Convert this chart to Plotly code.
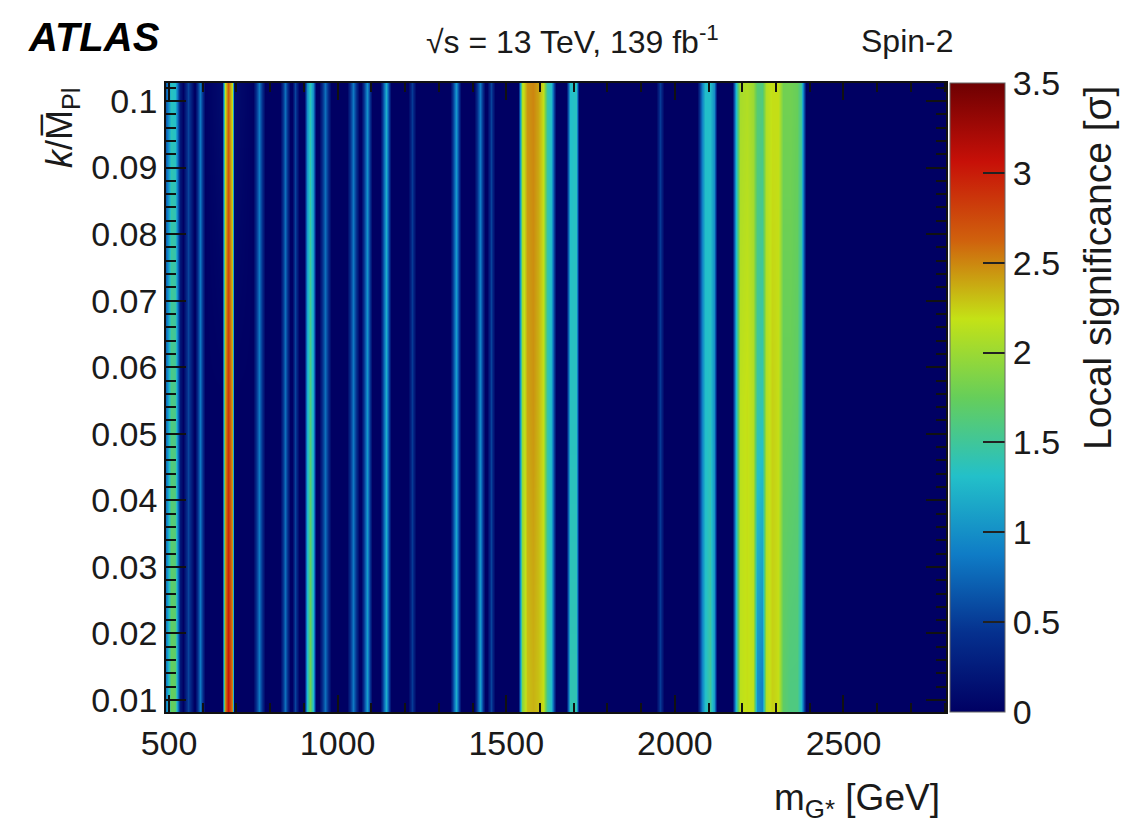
import plotly.graph_objects as go

# ---- data (local significance vs. mass, at three k/M_Pl rows) ----
K_ROWS = [0.012, 0.055, 0.099]

MASS = [491, 505, 518, 532, 541, 557, 573, 576, 592, 608,
        658, 666, 676, 686, 694, 750, 768, 786, 828, 844,
        860, 864, 874, 884, 900, 910, 918, 926, 936, 946,
        963, 980, 1028, 1045, 1062, 1069, 1086, 1103, 1125, 1142,
        1159, 1208, 1220, 1232, 1333, 1350, 1367, 1404, 1421, 1438,
        1444, 1456, 1468, 1536, 1548, 1562, 1580, 1595, 1610, 1622,
        1634, 1648, 1678, 1688, 1706, 1716, 1945, 1957, 1969, 2066,
        2080, 2090, 2105, 2115, 2126, 2170, 2182, 2192, 2215, 2232,
        2244, 2258, 2270, 2289, 2307, 2321, 2342, 2363, 2375, 2388,
        2804]

SIG_LOW_K = [0.9, 1.75, 1.7, 0.2, 0, 0.55, 0, 0, 0.85, 0,
             0, 2.5, 3.05, 2.5, 0, 0, 0.85, 0, 0, 0.8,
             0, 0, 0.55, 0, 0, 1.3, 1.8, 1.3, 0, 0,
             0.8, 0, 0, 0.85, 0, 0, 1.1, 0, 0, 1.2,
             0, 0, 0.5, 0, 0, 1.2, 0, 0, 1.1, 0,
             0, 0.55, 0, 0, 1.9, 2.3, 2.35, 2.3, 2.2, 1.5,
             1.3, 0, 0, 1.4, 1.4, 0, 0, 0.5, 0, 0,
             0.9, 1.3, 1.5, 1.1, 0, 0, 1.3, 2.15, 2.2, 2.15,
             1.0, 0.9, 2.1, 2.25, 2.2, 1.7, 1.6, 1.6, 1.3, 0,
             0]

SIG_MID_K = [0.8, 1.6, 1.55, 0.2, 0, 0.55, 0, 0, 0.85, 0,
             0, 2.4, 2.85, 2.4, 0, 0, 0.85, 0, 0, 0.8,
             0, 0, 0.55, 0, 0, 1.2, 1.6, 1.2, 0, 0,
             0.8, 0, 0, 0.85, 0, 0, 1.05, 0, 0, 1.2,
             0, 0, 0.5, 0, 0, 1.1, 0, 0, 0.95, 0,
             0, 0.55, 0, 0, 2.0, 2.4, 2.45, 2.35, 2.2, 1.45,
             1.25, 0, 0, 1.35, 1.35, 0, 0, 0.5, 0, 0,
             0.9, 1.3, 1.35, 1.0, 0, 0, 1.3, 2.15, 2.2, 2.1,
             1.45, 1.4, 2.1, 2.25, 2.2, 1.75, 1.75, 1.7, 1.4, 0,
             0]

SIG_HIGH_K = [0.7, 1.35, 1.3, 0.2, 0, 0.55, 0, 0, 0.85, 0,
              0.1, 2.2, 2.65, 2.2, 0.1, 0, 0.85, 0, 0, 0.8,
              0, 0, 0.55, 0, 0, 1.0, 1.4, 1.0, 0, 0,
              0.8, 0, 0, 0.85, 0, 0, 1.0, 0, 0, 1.2,
              0, 0, 0.5, 0, 0, 1.05, 0, 0, 0.85, 0,
              0, 0.55, 0, 0, 2.1, 2.45, 2.5, 2.4, 2.2, 1.45,
              1.3, 0, 0, 1.3, 1.35, 0, 0, 0.5, 0, 0,
              0.9, 1.3, 1.3, 1.0, 0, 0, 1.3, 2.05, 2.1, 2.0,
              1.65, 1.6, 2.1, 2.2, 2.2, 1.8, 1.8, 1.75, 1.5, 0,
              0]

X_TICKS = [500, 1000, 1500, 2000, 2500]
Y_TICKS = [0.01, 0.02, 0.03, 0.04, 0.05, 0.06, 0.07, 0.08, 0.09, 0.1]
Y_TICK_LABELS = ["0.01", "0.02", "0.03", "0.04", "0.05", "0.06", "0.07", "0.08", "0.09", "0.1"]
Z_TICKS = [0, 0.5, 1, 1.5, 2, 2.5, 3, 3.5]

# ROOT kRainBow palette
RAINBOW = [
    [0.000, "rgb(0,0,99)"],
    [0.125, "rgb(5,48,142)"],
    [0.250, "rgb(15,124,198)"],
    [0.375, "rgb(35,192,201)"],
    [0.500, "rgb(102,206,90)"],
    [0.625, "rgb(196,226,22)"],
    [0.750, "rgb(208,97,13)"],
    [0.875, "rgb(199,16,8)"],
    [1.000, "rgb(110,0,2)"],
]

FONT = "Liberation Sans"
TXT = "#1a1a1a"

fig = go.Figure()
fig.add_trace(go.Heatmap(
    x=MASS, y=K_ROWS, z=[SIG_LOW_K, SIG_MID_K, SIG_HIGH_K],
    zmin=0, zmax=3.5, zsmooth="best", colorscale=RAINBOW,
    colorbar=dict(
        x=1.005, xanchor="left", xpad=0, y=0.5, yanchor="middle", ypad=0,
        len=1, lenmode="fraction", thickness=55, thicknessmode="pixels",
        outlinewidth=1, outlinecolor="#666",
        tickmode="array", tickvals=Z_TICKS, ticktext=[str(v) for v in Z_TICKS],
        ticks="inside", ticklen=22, tickwidth=1.5, tickcolor="#222",
        tickfont=dict(family=FONT, size=34, color=TXT),
    ),
    showscale=True,
))

fig.update_layout(
    width=1140, height=826,
    margin=dict(l=166, r=194, t=83, b=114),
    paper_bgcolor="white", plot_bgcolor="rgb(0,0,99)",
    font=dict(family=FONT, size=34, color=TXT),
    showlegend=False,
)

fig.update_xaxes(
    range=[491, 2804], tickmode="array", tickvals=X_TICKS,
    ticks="inside", ticklen=17, tickwidth=1.5, tickcolor="#111",
    minor=dict(dtick=100, tick0=500, ticks="inside", ticklen=9, tickwidth=1.5, tickcolor="#111"),
    showline=True, linecolor="#111", linewidth=1.5, mirror="ticks",
    showgrid=False, zeroline=False,
    tickfont=dict(family=FONT, size=34, color=TXT),
)
fig.update_yaxes(
    range=[0.0082, 0.1027], tickmode="array", tickvals=Y_TICKS, ticktext=Y_TICK_LABELS,
    ticks="inside", ticklen=20, tickwidth=1.5, tickcolor="#111",
    minor=dict(dtick=0.002, tick0=0.01, ticks="inside", ticklen=10, tickwidth=1.5, tickcolor="#111"),
    showline=True, linecolor="#111", linewidth=1.5, mirror="ticks",
    showgrid=False, zeroline=False,
    tickfont=dict(family=FONT, size=34, color=TXT),
)

def px_x(px):
    return (px - 166) / 780.0

def px_y(py):
    return (712 - py) / 629.0

ann = [
    dict(text="<b><i>ATLAS</i></b>", x=px_x(26), y=px_y(37), xanchor="left", yanchor="middle",
         font=dict(family=FONT, size=40, color="black")),
    dict(text="√s = 13 TeV, 139 fb<sup>-1</sup>", x=px_x(572), y=px_y(40), xanchor="center", yanchor="middle",
         font=dict(family=FONT, size=32, color=TXT)),
    dict(text="Spin-2", x=px_x(907), y=px_y(41), xanchor="center", yanchor="middle",
         font=dict(family=FONT, size=32, color=TXT)),
    dict(text="m<sub>G*</sub> [GeV]", x=px_x(942), y=px_y(800), xanchor="right", yanchor="middle",
         font=dict(family=FONT, size=37, color=TXT)),
    dict(text="<i>k</i>/M\u0305<sub>Pl</sub>", x=px_x(62), y=px_y(86), xanchor="center", yanchor="top",
         textangle=-90, font=dict(family=FONT, size=36, color=TXT)),
    dict(text="Local significance [σ]", x=px_x(1097), y=px_y(84), xanchor="center", yanchor="top",
         textangle=-90, font=dict(family=FONT, size=39, color=TXT)),
]
for a in ann:
    a.update(xref="paper", yref="paper", showarrow=False)
fig.update_layout(annotations=ann)

fig.write_html("out.html")
